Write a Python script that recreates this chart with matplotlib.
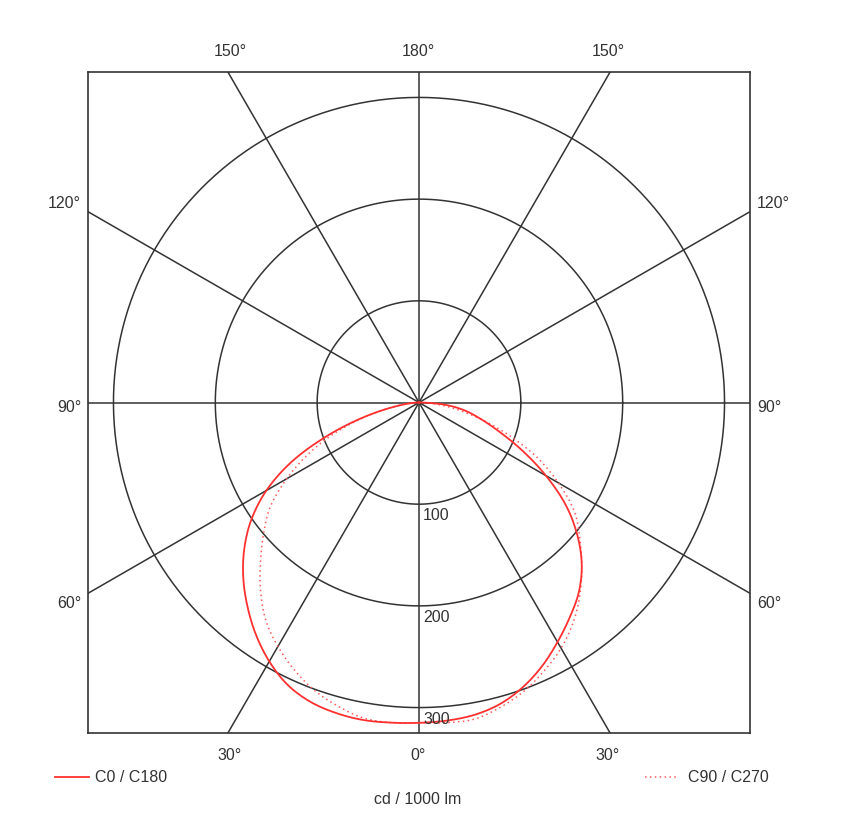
import numpy as np
import matplotlib
matplotlib.use("Agg")
import matplotlib.pyplot as plt

# angles measured from nadir (0° = straight down), 5° steps
angles = [0, 5, 10, 15, 20, 25, 30, 35, 40, 45, 50, 55, 60, 65, 70, 75, 80, 85, 90]
# C0 / C180 (solid): right half and left half
c0   = [315, 314, 312, 307, 298, 286, 272, 258, 244, 226, 203, 176, 144, 112, 84, 63, 46, 26, 0]
c180 = [315, 316, 317, 316, 313, 306, 294, 279, 262, 244, 224, 201, 173, 138, 96, 57, 26, 9, 0]
# C90 / C270 (dotted)
c90  = [315, 316, 316, 310, 302, 291, 279, 264, 246, 226, 206, 186, 158, 128, 94, 62, 36, 15, 0]
c270 = [315, 316, 315, 309, 301, 290, 277, 262, 242, 220, 199, 178, 150, 120, 88, 55, 28, 10, 0]

ring_values = [100, 200, 300]
ring_labels = ["100", "200", "300"]
spoke_angles = [0, 30, 60, 90, 120, 150]

FONT = "Liberation Sans"
TXT = "#333333"
GRID = "#333333"

fig = plt.figure(figsize=(8.5, 8.4), dpi=100)
W, H = 850, 840
L, R, T, B = 88, 750, 72, 733
ax = fig.add_axes([L / W, 1 - B / H, (R - L) / W, (B - T) / H])
lim = 325
ax.set_xlim(-lim, lim)
ax.set_ylim(-lim, lim)
ax.set_xticks([])
ax.set_yticks([])
for s in ax.spines.values():
    s.set_color(GRID)
    s.set_linewidth(1.2)

t = np.linspace(0, 2 * np.pi, 400)
for rv in ring_values:
    ax.plot(rv * np.cos(t), rv * np.sin(t), color=GRID, lw=1.1, zorder=1)

for a in spoke_angles:
    th = np.radians(a)
    L2 = 1000
    ax.plot([-L2 * np.sin(th), L2 * np.sin(th)], [L2 * np.cos(th), -L2 * np.cos(th)],
            color=GRID, lw=1.1, zorder=1)


def smooth(th, r, n=8):
    """Catmull-Rom rendering between measured points (display only)."""
    th = np.asarray(th, float)
    r = np.asarray(r, float)
    out_t, out_r = [], []
    for i in range(len(th) - 1):
        p0 = r[i - 1] if i > 0 else r[i]
        p3 = r[i + 2] if i + 2 < len(r) else r[i + 1]
        p1, p2 = r[i], r[i + 1]
        for k in range(n):
            s = k / n
            v = 0.5 * ((2 * p1) + (-p0 + p2) * s + (2 * p0 - 5 * p1 + 4 * p2 - p3) * s * s
                       + (-p0 + 3 * p1 - 3 * p2 + p3) * s ** 3)
            out_t.append(th[i] + (th[i + 1] - th[i]) * s)
            out_r.append(max(v, 0))
    out_t.append(th[-1])
    out_r.append(r[-1])
    return np.array(out_t), np.array(out_r)


def curve(left, right):
    th = list(-np.array(angles[::-1], float)) + list(angles[1:])
    rr = list(left[::-1]) + list(right[1:])
    ts, rs = smooth(th, rr)
    a = np.radians(ts)
    return rs * np.sin(a), -rs * np.cos(a)


x1, y1 = curve(c180, c0)
x2, y2 = curve(c270, c90)
ax.plot(x2, y2, color="#ff5a5a", lw=1.1, ls=(0, (1, 2.2)), zorder=3)
ax.plot(x1, y1, color="#ff3030", lw=1.3, zorder=4)

for rv, lab in zip(ring_values, ring_labels):
    ax.text(4, -rv - 4, lab, ha="left", va="top", fontsize=11.5, color=TXT,
            family=FONT, zorder=5)


def ftext(px, py, s, ha="center", size=11.5):
    fig.text(px / W, 1 - py / H, s, ha=ha, va="center", fontsize=size,
             color=TXT, family=FONT)


ftext(230, 52, "150°")
ftext(418, 52, "180°")
ftext(608, 52, "150°")
ftext(81, 203, "120°", ha="right")
ftext(757, 203, "120°", ha="left")
ftext(81, 407, "90°", ha="right")
ftext(757, 407, "90°", ha="left")
ftext(81, 604, "60°", ha="right")
ftext(757, 604, "60°", ha="left")
ftext(230, 755, "30°")
ftext(418, 755, "0°")
ftext(608, 755, "30°")
ftext(418, 800, "cd / 1000 lm")

fig.add_artist(plt.Line2D([55 / W, 89 / W], [1 - 777 / H, 1 - 777 / H],
                          color="#ff3030", lw=1.3))
ftext(95, 777, "C0 / C180", ha="left")
fig.add_artist(plt.Line2D([645 / W, 677 / W], [1 - 777 / H, 1 - 777 / H],
                          color="#ff5a5a", lw=1.1, ls=(0, (1, 2.2))))
ftext(688, 777, "C90 / C270", ha="left")

fig.savefig("out.png", dpi=100, facecolor="white")
